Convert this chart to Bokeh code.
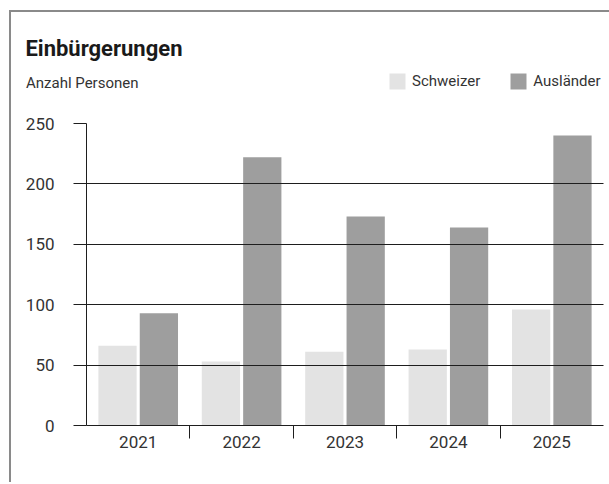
from bokeh.plotting import figure
from bokeh.layouts import column
from bokeh.models import (ColumnDataSource, FixedTicker, Legend, LegendItem, Range1d)
from bokeh.transform import dodge
from bokeh.embed import file_html
from bokeh.resources import INLINE

# ---- data ----
years = ["2021", "2022", "2023", "2024", "2025"]
schweizer = [66, 53, 61, 63, 96]
auslaender = [93, 222, 173, 164, 240]
y_ticks = [0, 50, 100, 150, 200, 250]

title_text = "Einbürgerungen"
subtitle_text = "Anzahl Personen"
series_names = ["Schweizer", "Ausländer"]

FONT = "Roboto"
TXT = "#333333"
LIGHT = "#e3e3e3"
DARK = "#9e9e9e"
LINE = "#1e1e1e"

W = 598
TH = 50          # title strip height
HH = 41          # subtitle / legend strip height
HM = 379         # main figure height

pos = list(range(1, len(years) + 1))
src = ColumnDataSource(dict(x=pos, schweizer=schweizer, auslaender=auslaender))


def strip(height, y0):
    f = figure(width=W, height=height, output_backend="svg", toolbar_location=None,
               x_range=Range1d(0.5, len(years) + 0.5), y_range=Range1d(y0, y0 + height),
               min_border_left=75, min_border_right=6, min_border_top=0, min_border_bottom=0,
               x_axis_type=None)
    f.outline_line_color = None
    f.xgrid.visible = False
    f.ygrid.visible = False
    f.border_fill_color = "white"
    ax = f.yaxis[0]
    ax.axis_line_color = None
    ax.major_tick_line_color = None
    ax.minor_tick_line_color = None
    ax.major_tick_out = 0
    ax.major_tick_in = 0
    return f, ax


# ---------------- title strip (title as the strip's only axis label) ----------------
tfig, tax = strip(TH, 0)
tax.ticker = FixedTicker(ticks=[14])
tax.major_label_overrides = {14: title_text}
tax.major_label_standoff = -96
tax.major_label_text_font = FONT
tax.major_label_text_font_size = "22px"
tax.major_label_text_font_style = "bold"
tax.major_label_text_color = "#1a1a1a"

# ---------------- subtitle + legend strip ----------------
base = -1000
hdr, hax = strip(HH, base)
sub_tick = base + 21
hax.ticker = FixedTicker(ticks=[sub_tick])
hax.major_label_overrides = {sub_tick: subtitle_text}
hax.major_label_standoff = -52
hax.major_label_text_font = FONT
hax.major_label_text_font_size = "15px"
hax.major_label_text_color = TXT

# same series (zero width, outside this strip's range) only supply the legend swatches
h1 = hdr.vbar(x="x", top="schweizer", width=0, source=src, fill_color=LIGHT, line_color=None)
h2 = hdr.vbar(x="x", top="auslaender", width=0, source=src, fill_color=DARK, line_color=None)
legend = Legend(items=[LegendItem(label=series_names[0], renderers=[h1]),
                       LegendItem(label=series_names[1], renderers=[h2])],
                orientation="horizontal", location=(301, 12),
                glyph_width=20, glyph_height=20, label_height=20, label_standoff=5,
                spacing=28, padding=0, margin=0, border_line_color=None,
                background_fill_alpha=0, label_text_font=FONT, label_text_font_size="15px",
                label_text_color=TXT)
hdr.add_layout(legend, "center")

# ---------------- main chart ----------------
p = figure(width=W, height=HM, output_backend="svg", toolbar_location=None,
           x_range=Range1d(0.5, len(years) + 0.5), y_range=Range1d(0, y_ticks[-1]),
           min_border_left=75, min_border_right=6, min_border_top=20, min_border_bottom=57)
p.outline_line_color = None
p.background_fill_color = "white"
p.border_fill_color = "white"

p.vbar(x=dodge("x", -0.2, range=p.x_range), top="schweizer", width=0.37, source=src,
       fill_color=LIGHT, line_color=None)
p.vbar(x=dodge("x", 0.2, range=p.x_range), top="auslaender", width=0.37, source=src,
       fill_color=DARK, line_color=None)

p.xgrid.visible = False
p.ygrid.ticker = FixedTicker(ticks=y_ticks)
p.ygrid.grid_line_color = LINE
p.ygrid.grid_line_width = 1
p.ygrid.level = "overlay"

ya = p.yaxis[0]
ya.ticker = FixedTicker(ticks=y_ticks)
ya.axis_line_color = LINE
ya.major_tick_line_color = LINE
ya.major_tick_out = 13
ya.major_tick_in = 0
ya.minor_tick_line_color = None
ya.major_label_standoff = 19
ya.major_label_text_font = FONT
ya.major_label_text_font_size = "17px"
ya.major_label_text_color = TXT

xa = p.xaxis[0]
xa.ticker = FixedTicker(ticks=pos, minor_ticks=[i + 0.5 for i in pos[:-1]])
xa.major_label_overrides = {i: y for i, y in zip(pos, years)}
xa.axis_line_color = LINE
xa.major_tick_line_color = None
xa.major_tick_out = 0
xa.major_tick_in = 0
xa.minor_tick_line_color = LINE
xa.minor_tick_out = 13
xa.minor_tick_in = 0
xa.major_label_standoff = -3
xa.major_label_text_font = FONT
xa.major_label_text_font_size = "17px"
xa.major_label_text_color = TXT

layout = column(tfig, hdr, p, spacing=0,
                styles={"margin-left": "9px", "margin-top": "10px",
                        "border-top": "2px solid #8a8a8a", "border-left": "2px solid #8a8a8a"})

open("out.html", "w").write(file_html(layout, INLINE))
